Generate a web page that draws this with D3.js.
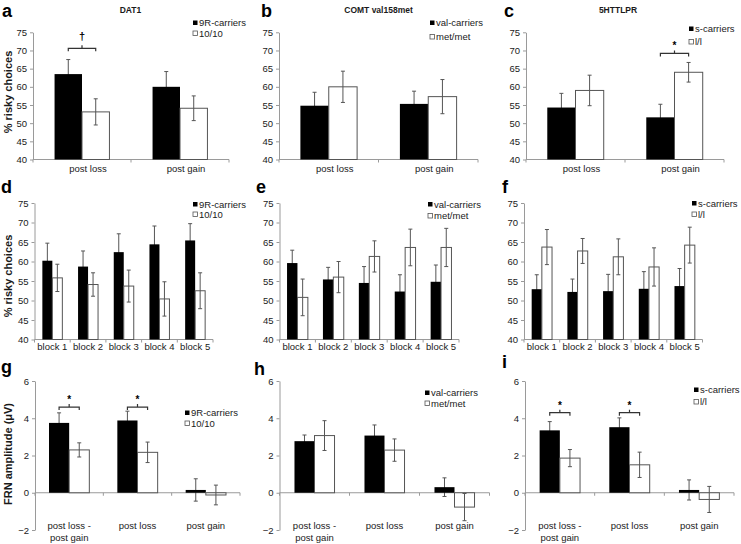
<!DOCTYPE html>
<html><head><meta charset="utf-8">
<script src="https://cdn.jsdelivr.net/npm/d3@7"></script>
<style>body{margin:0;background:#fff}svg{font-family:"Liberation Sans",Arial,sans-serif}</style>
</head><body><svg id="c" width="741" height="544"></svg>
<script>
// ---------- data ----------
const catsOutcome = [["post loss"], ["post gain"]];
const catsBlocks = [["block 1"], ["block 2"], ["block 3"], ["block 4"], ["block 5"]];
const catsFRN = [["post loss -", "post gain"], ["post loss"], ["post gain"]];
const ticksRisky = [40, 45, 50, 55, 60, 65, 70, 75];
const ticksFRN = [-2, 0, 2, 4, 6];

const legendDAT1 = ["9R-carriers", "10/10"];
const legendCOMT = ["val-carriers", "met/met"];
const legend5HTT = ["s-carriers", "l/l"];
const titles = ["DAT1", "COMT val158met", "5HTTLPR"];
const letters = ["a", "b", "c", "d", "e", "f", "g", "h", "i"];

const a9R = [63.5, 60.0], a9RErr = [4.0, 4.2];
const a1010 = [53.1, 54.1], a1010Err = [3.6, 3.4];
const bVal = [54.8, 55.3], bValErr = [3.7, 3.5];
const bMet = [60.0, 57.3], bMetErr = [4.3, 4.7];
const cS = [54.3, 51.6], cSErr = [3.9, 3.6];
const cLL = [59.0, 64.0], cLLErr = [4.2, 2.7];

const d9R = [60.2, 58.7, 62.4, 64.4, 65.4], d9RErr = [4.5, 4.0, 4.7, 4.7, 4.3];
const d1010 = [55.8, 54.1, 53.7, 50.4, 52.5], d1010Err = [3.5, 3.0, 4.1, 4.4, 4.6];
const eVal = [59.6, 55.4, 54.5, 52.3, 54.8], eValErr = [3.3, 3.1, 4.2, 4.3, 4.3];
const eMet = [50.8, 56.0, 61.3, 63.6, 63.6], eMetErr = [4.7, 4.0, 4.0, 4.7, 4.9];
const fS = [52.9, 52.2, 52.4, 53.0, 53.7], fSErr = [3.7, 3.3, 4.3, 4.4, 4.5];
const fLL = [63.7, 62.7, 61.2, 58.6, 64.2], fLLErr = [4.5, 3.2, 4.6, 4.9, 4.6];

const g9R = [3.75, 3.88, 0.15], g9RErr = [0.54, 0.5, 0.6];
const g1010 = [2.3, 2.17, -0.12], g1010Err = [0.38, 0.55, 0.53];
const hVal = [2.77, 3.07, 0.3], hValErr = [0.33, 0.57, 0.5];
const hMet = [3.07, 2.29, -0.77], hMetErr = [0.8, 0.6, 0.73];
const iS = [3.35, 3.52, 0.15], iSErr = [0.47, 0.5, 0.54];
const iLL = [1.86, 1.5, -0.36], iLLErr = [0.46, 0.68, 0.7];

// significance markers: category index, bracket level (data units), symbol
const sigA = [{i: 0, lev: 70.6, sym: "\u2020"}];
const sigC = [{i: 1, lev: 69.2, sym: "*"}];
const sigG = [{i: 0, lev: 4.6, sym: "*"}, {i: 1, lev: 4.6, sym: "*"}];
const sigI = [{i: 0, lev: 4.3, sym: "*"}, {i: 1, lev: 4.3, sym: "*"}];

// ---------- drawing ----------
const svg = d3.select("#c");
const AX = "#9a9a9a", TXT = "#1a1a1a", ERR = "#555";

function panel(cfg) {
  const g = svg.append("g");
  const n = cfg.cats.length;
  const x = d3.scaleBand().domain(d3.range(n)).range(cfg.xr);
  const y = d3.scaleLinear().domain(cfg.yd).range(cfg.yr);
  const bw = x.step() * cfg.bf;
  const cx = i => x(i) + x.step() / 2;
  const base = cfg.base;

  // y axis
  const ya = g.append("g").attr("transform", `translate(${cfg.xr[0]},0)`)
    .call(d3.axisLeft(y).tickValues(cfg.ticks).tickSize(3).tickPadding(3).tickSizeOuter(0));
  ya.select(".domain").attr("stroke", AX);
  ya.selectAll(".tick line").attr("stroke", AX);
  ya.selectAll(".tick text").attr("fill", TXT).style("font-size", "9.5px")
    .style("font-family", '"Liberation Sans",Arial,sans-serif');

  // x axis line + boundary ticks
  const yb = y(base);
  g.append("line").attr("x1", cfg.xr[0]).attr("x2", cfg.xr[1]).attr("y1", yb).attr("y2", yb).attr("stroke", AX);
  g.selectAll(".xt").data(d3.range(n + 1)).join("line")
    .attr("x1", i => cfg.xr[0] + i * x.step()).attr("x2", i => cfg.xr[0] + i * x.step())
    .attr("y1", yb).attr("y2", yb + 3).attr("stroke", AX);

  // category labels
  cfg.cats.forEach((lines, i) => {
    const t = g.append("text").attr("x", cx(i) + (cfg.ldx || 0)).attr("y", cfg.labelY)
      .attr("text-anchor", "middle").attr("fill", TXT).style("font-size", "9.5px");
    lines.forEach((l, k) => t.append("tspan").attr("x", cx(i) + (cfg.ldx || 0)).attr("dy", k ? 11.5 : 0).text(l));
  });

  const errBars = (vals, errs, off) => {
    vals.forEach((v, i) => {
      const xc = cx(i) + off;
      g.append("line").attr("x1", xc).attr("x2", xc).attr("y1", y(v - errs[i])).attr("y2", y(v + errs[i])).attr("stroke", ERR);
      [v - errs[i], v + errs[i]].forEach(e => g.append("line").attr("x1", xc - 2).attr("x2", xc + 2)
        .attr("y1", y(e)).attr("y2", y(e)).attr("stroke", ERR));
    });
  };
  const bars = (vals, fill, stroke, off) => {
    g.selectAll(null).data(vals).join("rect")
      .attr("x", (v, i) => cx(i) + off).attr("width", bw)
      .attr("y", v => Math.min(y(v), yb)).attr("height", v => Math.abs(y(v) - yb))
      .attr("fill", fill).attr("stroke", stroke).attr("stroke-width", stroke === "none" ? 0 : 1);
  };
  // black series: error bar beneath, then bar
  errBars(cfg.s1, cfg.e1, -bw / 2);
  bars(cfg.s1, "#000", "none", -bw);
  bars(cfg.s2, "#fff", "#555", 0);
  errBars(cfg.s2, cfg.e2, bw / 2);

  // significance
  (cfg.sig || []).forEach(s => {
    const x1 = cx(s.i) - bw / 2, x2 = cx(s.i) + bw / 2, yy = y(s.lev), xm = cx(s.i);
    g.append("path").attr("d", `M${x1},${yy + 3}V${yy}H${x2}V${yy + 3}M${xm},${yy}V${yy - 3}`)
      .attr("fill", "none").attr("stroke", "#333").attr("stroke-width", 1.2);
    g.append("text").attr("x", xm).attr("y", yy - (s.sym === "*" ? 4 : 8)).attr("text-anchor", "middle")
      .attr("fill", "#000").style("font-size", s.sym === "*" ? "10px" : "11px").style("font-weight", "bold").text(s.sym);
  });

  // legend
  cfg.leg.forEach((l, k) => {
    const ly = cfg.legY[k];
    g.append("rect").attr("x", cfg.legX).attr("y", ly - 2.5).attr("width", 4.5).attr("height", 4.5)
      .attr("fill", k ? "#fff" : "#000").attr("stroke", k ? "#555" : "none").attr("stroke-width", 0.8);
    g.append("text").attr("x", cfg.legX + 6).attr("y", ly).attr("dy", "0.35em")
      .attr("fill", TXT).style("font-size", "9.5px").text(l);
  });

  // panel letter
  g.append("text").attr("x", cfg.letter[0]).attr("y", cfg.letter[1]).attr("fill", "#000")
    .style("font-size", "18px").style("font-weight", "bold").text(cfg.L);
  if (cfg.title) g.append("text").attr("x", cfg.title[1]).attr("y", 13).attr("text-anchor", "middle")
    .attr("fill", TXT).style("font-size", "8.5px").style("font-weight", "bold").text(cfg.title[0]);
}

const riskyY1 = [32.3, 159.5], riskyY2 = [203, 339.5], frnY = [381, 530];
const risky = [40, 75], frn = [-2, 6];

panel({L: letters[0], letter: [2, 17], title: [titles[0], 130.5], cats: catsOutcome, xr: [33, 229], yr: [riskyY1[1], riskyY1[0]], yd: risky,
  ticks: ticksRisky, base: 40, bf: 0.28, s1: a9R, e1: a9RErr, s2: a1010, e2: a1010Err, labelY: 171.5, ldx: 6,
  leg: legendDAT1, legX: 193, legY: [23, 33.5], sig: sigA});
panel({L: letters[1], letter: [261, 17], title: [titles[1], 378.5], cats: catsOutcome, xr: [279, 478], yr: [riskyY1[1], riskyY1[0]], yd: risky,
  ticks: ticksRisky, base: 40, bf: 0.285, s1: bVal, e1: bValErr, s2: bMet, e2: bMetErr, labelY: 171.5, ldx: 6,
  leg: legendCOMT, legX: 430, legY: [23, 37]});
panel({L: letters[2], letter: [504, 17], title: [titles[2], 618], cats: catsOutcome, xr: [526, 724], yr: [riskyY1[1], riskyY1[0]], yd: risky,
  ticks: ticksRisky, base: 40, bf: 0.285, s1: cS, e1: cSErr, s2: cLL, e2: cLLErr, labelY: 171.5, ldx: 6,
  leg: legend5HTT, legX: 689, legY: [29, 42], sig: sigC});

panel({L: letters[3], letter: [1, 193], cats: catsBlocks, xr: [34.5, 213], yr: [riskyY2[1], riskyY2[0]], yd: risky,
  ticks: ticksRisky, base: 40, bf: 0.28, s1: d9R, e1: d9RErr, s2: d1010, e2: d1010Err, labelY: 349.5,
  leg: legendDAT1, legX: 193, legY: [204.5, 214.5]});
panel({L: letters[4], letter: [256, 193], cats: catsBlocks, xr: [279.5, 459], yr: [riskyY2[1], riskyY2[0]], yd: risky,
  ticks: ticksRisky, base: 40, bf: 0.29, s1: eVal, e1: eValErr, s2: eMet, e2: eMetErr, labelY: 349.5,
  leg: legendCOMT, legX: 428, legY: [204.5, 216]});
panel({L: letters[5], letter: [502, 193], cats: catsBlocks, xr: [524, 702.5], yr: [riskyY2[1], riskyY2[0]], yd: risky,
  ticks: ticksRisky, base: 40, bf: 0.285, s1: fS, e1: fSErr, s2: fLL, e2: fLLErr, labelY: 349.5,
  leg: legend5HTT, legX: 692, legY: [203.5, 214.5]});

panel({L: letters[6], letter: [1, 373], cats: catsFRN, xr: [35, 240], yr: [frnY[1], frnY[0]], yd: frn,
  ticks: ticksFRN, base: 0, bf: 0.295, s1: g9R, e1: g9RErr, s2: g1010, e2: g1010Err, labelY: 529,
  leg: legendDAT1, legX: 185, legY: [413, 423.5], sig: sigG});
panel({L: letters[7], letter: [254, 375], cats: catsFRN, xr: [279.5, 489.5], yr: [frnY[1], frnY[0]], yd: frn,
  ticks: ticksFRN, base: 0, bf: 0.286, s1: hVal, e1: hValErr, s2: hMet, e2: hMetErr, labelY: 529,
  leg: legendCOMT, legX: 425, legY: [393, 403.5]});
panel({L: letters[8], letter: [502, 368], cats: catsFRN, xr: [525, 734], yr: [frnY[1], frnY[0]], yd: frn,
  ticks: ticksFRN, base: 0, bf: 0.29, s1: iS, e1: iSErr, s2: iLL, e2: iLLErr, labelY: 529,
  leg: legend5HTT, legX: 694, legY: [390, 402], sig: sigI});

// y axis titles
[["% risky choices", 92], ["% risky choices", 276], ["FRN amplitude (\u03bcV)", 454]].forEach(([t, cy]) => {
  svg.append("text").attr("transform", `translate(8,${cy}) rotate(-90)`).attr("dy", "0.35em")
    .attr("text-anchor", "middle").attr("fill", TXT).style("font-size", "11px").style("font-weight", "bold").text(t);
});
</script></body></html>
